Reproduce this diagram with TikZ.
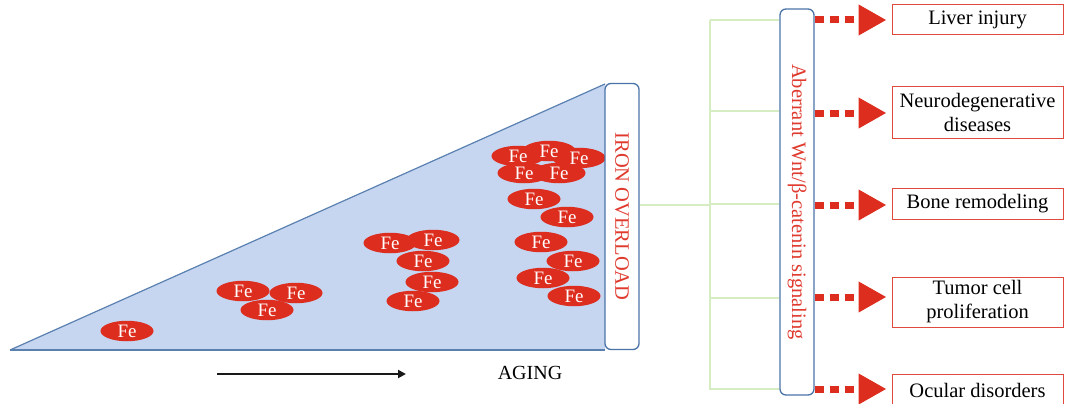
\documentclass[tikz,border=0pt]{standalone}
\usepackage{fontspec}
\setmainfont{Liberation Serif}
\usetikzlibrary{shapes.geometric,arrows.meta}
\definecolor{feRed}{HTML}{DC2D1E}
\definecolor{triFill}{HTML}{C6D5F0}
\definecolor{triEdge}{HTML}{5A80B0}
\definecolor{boxBlue}{HTML}{4A74A8}
\definecolor{linkGreen}{HTML}{D6ECC2}
\definecolor{outRed}{HTML}{E04A3E}
\definecolor{txtRed}{HTML}{E03A2E}
\tikzset{
  fe/.style={ellipse, fill=feRed, draw=none, minimum width=53pt, minimum height=20.5pt,
    inner sep=0pt},
  felabel/.style={inner sep=0pt, text=white, font=\fontsize{19}{19}\selectfont},
  vbox/.style={draw=boxBlue, line width=1.3pt, fill=white, rounded corners=6pt,
    rotate=-90, minimum height=34pt, inner sep=0pt, text=txtRed,
    font=\fontsize{20.5}{20.5}\selectfont},
  outbox/.style={draw=outRed, line width=1pt, fill=white, minimum width=171pt,
    inner sep=2pt, align=center, font=\fontsize{20.5}{24}\selectfont},
  link/.style={draw=linkGreen, line width=1.3pt},
  dotarrow/.style={draw=feRed, line width=7pt, dash pattern=on 9pt off 6pt,
    -{Triangle[length=28pt,width=29pt]}, shorten >=5pt},
}
\begin{document}
\begin{tikzpicture}[x=1pt,y=-1pt]
\useasboundingbox (0,0) rectangle (1065,404);

% growing iron wedge
\fill[triFill] (10,350) -- (605,350) -- (605,84) -- cycle;
\draw[triEdge, line width=1.2pt] (605,84) -- (10,350);
\draw[triEdge, line width=2pt] (10,350) -- (605,350);

% iron particles: discs first, then all labels on top
\foreach \n/\px/\py in {1/127/331, 2/243/291, 3/296/293, 4/267/310,
    5/390/243, 6/433/240, 7/423/261, 8/432/282, 9/413/301,
    10/518/156, 11/549/151, 12/579/158, 13/524/173, 14/559/173,
    15/534/199, 16/567/217, 17/541/242, 18/573/261, 19/543/278, 20/574/296}{
  \node[fe] (f\n) at (\px,\py) {};
}
\foreach \n in {1,...,20}{
  \node[felabel] (t\n) at ([yshift=-0.5pt]f\n.center) {Fe};
}

% vertical label boxes (rotated: north is the right side, south the left side)
\node[vbox, minimum width=266pt] (iron) at (622,216.5) {IRON OVERLOAD};
\node[vbox, minimum width=386pt] (wnt) at (797,202) {Aberrant Wnt/β-catenin signaling};

% aging axis
\coordinate (ageA) at (217,374);
\coordinate (ageB) at (406,374);
\draw[line width=2.6pt, black!90, -{Triangle[length=8pt,width=8pt]}] (ageA) -- (ageB);
\node[font=\fontsize{20}{20}\selectfont] (aging) at (530,373) {AGING};

% outcome boxes
\node[outbox, minimum height=30pt] (liver) at (977.5,20) {Liver injury};
\node[outbox, minimum height=52pt] (neuro) at (977.5,112) {Neurodegenerative\\diseases};
\node[outbox, minimum height=31pt] (bone) at (977.5,203.5) {Bone remodeling};
\node[outbox, minimum height=50pt] (tumor) at (977.5,302) {Tumor cell\\proliferation};
\node[outbox, minimum height=32pt] (ocular) at (977.5,390) {Ocular disorders};

% green bracket from iron overload to the signaling box
\coordinate (bx) at (710,205);
\coordinate (bTop) at (710,20);
\coordinate (bBot) at (710,390);
\draw[link] (iron.north |- bx) -- (bx);
\draw[link] (bTop) -- (bBot);
\foreach \yy in {20,111,204,298,389}{
  \draw[link] (710,\yy) -- (wnt.south |- 0,\yy);
}

% dotted arrows to the outcomes
\draw[dotarrow] (wnt.north |- liver.west) -- (liver.west);
\draw[dotarrow] (wnt.north |- 0,113) -- (neuro.west |- 0,113);
\draw[dotarrow] (wnt.north |- 0,205) -- (bone.west |- 0,205);
\draw[dotarrow] (wnt.north |- 0,297) -- (tumor.west |- 0,297);
\draw[dotarrow] (wnt.north |- 0,389) -- (ocular.west |- 0,389);
\end{tikzpicture}
\end{document}
